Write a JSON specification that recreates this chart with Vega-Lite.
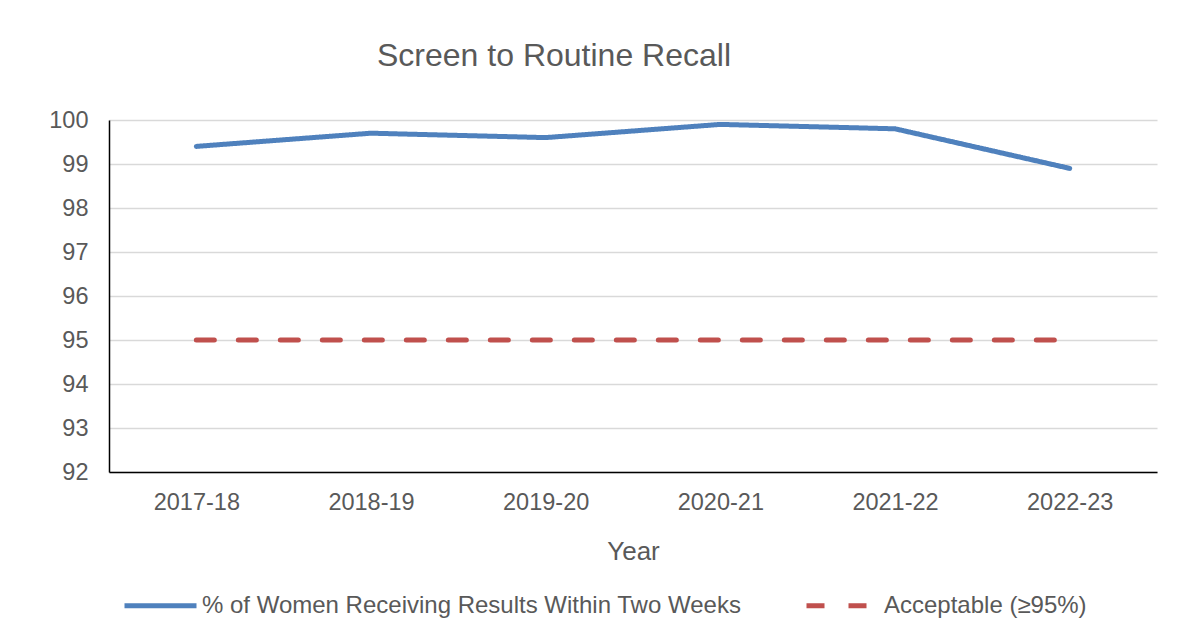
{
  "$schema": "https://vega.github.io/schema/vega-lite/v6.json",
  "width": 1048,
  "height": 352,
  "autosize": "none",
  "padding": {"left": 109, "top": 120, "right": 43, "bottom": 167},
  "background": "white",
  "title": {
    "text": "Screen to Routine Recall",
    "fontSize": 32,
    "font": "Liberation Sans",
    "fontWeight": "normal",
    "color": "#595959",
    "anchor": "middle",
    "dx": -79,
    "offset": 35
  },
  "data": {
    "values": [
      {"year": "2017-18", "series": "% of Women Receiving Results Within Two Weeks", "value": 99.4},
      {"year": "2018-19", "series": "% of Women Receiving Results Within Two Weeks", "value": 99.7},
      {"year": "2019-20", "series": "% of Women Receiving Results Within Two Weeks", "value": 99.6},
      {"year": "2020-21", "series": "% of Women Receiving Results Within Two Weeks", "value": 99.9},
      {"year": "2021-22", "series": "% of Women Receiving Results Within Two Weeks", "value": 99.8},
      {"year": "2022-23", "series": "% of Women Receiving Results Within Two Weeks", "value": 98.9},
      {"year": "2017-18", "series": "Acceptable (≥95%)", "value": 95},
      {"year": "2018-19", "series": "Acceptable (≥95%)", "value": 95},
      {"year": "2019-20", "series": "Acceptable (≥95%)", "value": 95},
      {"year": "2020-21", "series": "Acceptable (≥95%)", "value": 95},
      {"year": "2021-22", "series": "Acceptable (≥95%)", "value": 95},
      {"year": "2022-23", "series": "Acceptable (≥95%)", "value": 95}
    ]
  },
  "mark": {"type": "line", "strokeWidth": 5, "strokeCap": "round", "strokeJoin": "round"},
  "encoding": {
    "x": {
      "field": "year",
      "type": "ordinal",
      "scale": {"type": "point", "padding": 0.5},
      "axis": {
        "title": "Year",
        "labelAngle": 0,
        "ticks": false,
        "grid": false,
        "domainColor": "#000000",
        "domainWidth": 1.5,
        "labelPadding": 18,
        "labelFontSize": 23.5,
        "labelColor": "#595959",
        "labelFont": "Liberation Sans",
        "titleFont": "Liberation Sans",
        "titleFontSize": 26,
        "titleFontWeight": "normal",
        "titleColor": "#595959",
        "titlePadding": 25
      }
    },
    "y": {
      "field": "value",
      "type": "quantitative",
      "scale": {"domain": [92, 100], "zero": false, "nice": false},
      "axis": {
        "title": null,
        "values": [92, 93, 94, 95, 96, 97, 98, 99, 100],
        "ticks": false,
        "grid": true,
        "gridColor": "#d9d9d9",
        "gridWidth": 1.5,
        "domainColor": "#000000",
        "domainWidth": 1.5,
        "labelPadding": 21,
        "labelFontSize": 23.5,
        "labelColor": "#595959",
        "labelFont": "Liberation Sans"
      }
    },
    "color": {
      "field": "series",
      "type": "nominal",
      "scale": {
        "domain": ["% of Women Receiving Results Within Two Weeks", "Acceptable (≥95%)"],
        "range": ["#4f81bd", "#c0504d"]
      },
      "legend": {
        "title": null,
        "orient": "none",
        "direction": "horizontal",
        "legendX": 13,
        "legendY": 447,
        "padding": 0,
        "symbolType": "stroke",
        "symbolSize": 5184,
        "symbolStrokeWidth": 5,
        "labelFontSize": 24,
        "labelFont": "Liberation Sans",
        "labelColor": "#595959",
        "labelOffset": 3,
        "labelLimit": 800,
        "columnPadding": 54
      }
    },
    "strokeDash": {
      "field": "series",
      "type": "nominal",
      "scale": {
        "domain": ["% of Women Receiving Results Within Two Weeks", "Acceptable (≥95%)"],
        "range": [[1, 0], [18, 24]]
      },
      "legend": null
    }
  },
  "config": {
    "view": {"stroke": null},
    "font": "Liberation Sans"
  }
}
